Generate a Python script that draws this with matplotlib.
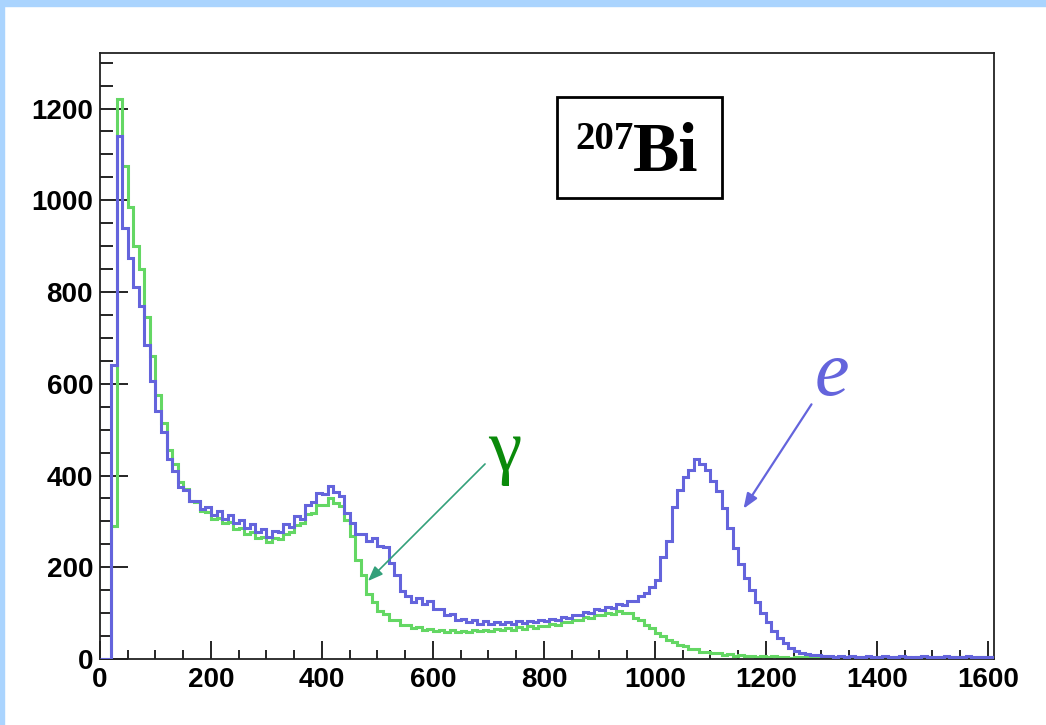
import numpy as np
import matplotlib
matplotlib.use("Agg")
import matplotlib.pyplot as plt
from matplotlib.ticker import MultipleLocator
from matplotlib.patches import Rectangle

# ---- data (counts per 10-unit bin, 0..1610) ----
bin_edges = list(range(0, 1620, 10))

gamma_counts = [
    0, 0, 290, 1220, 1075, 985, 900, 850, 745, 660,
    575, 515, 455, 425, 385, 370, 345, 342, 322, 320,
    306, 308, 296, 298, 284, 286, 272, 276, 264, 266,
    256, 264, 262, 272, 276, 292, 296, 316, 318, 336,
    336, 350, 340, 334, 302, 268, 216, 184, 142, 124,
    104, 99, 86, 84, 75, 75, 68, 70, 64, 66,
    61, 64, 59, 63, 58, 62, 58, 63, 60, 64,
    61, 66, 63, 68, 64, 69, 66, 71, 68, 73,
    71, 77, 75, 81, 80, 86, 85, 91, 90, 97,
    95, 101, 99, 105, 100, 100, 90, 86, 74, 68,
    56, 51, 41, 38, 30, 28, 22, 21, 16, 16,
    12, 12, 9, 10, 7, 8, 6, 7, 5, 6,
    4, 6, 4, 5, 3, 5, 4, 5, 3, 5,
    4, 5, 3, 5, 4, 5, 3, 4, 5, 3,
    5, 4, 3, 5, 4, 5, 3, 4, 5, 4,
    3, 5, 4, 5, 3, 4, 5, 3, 4, 5,
    4,
]

electron_counts = [
    0, 0, 640, 1140, 940, 875, 810, 770, 685, 605,
    540, 495, 435, 410, 375, 368, 345, 345, 326, 332,
    314, 322, 306, 314, 296, 304, 286, 294, 276, 284,
    266, 280, 276, 294, 288, 312, 306, 336, 342, 362,
    360, 378, 364, 356, 318, 296, 272, 272, 258, 264,
    246, 244, 210, 184, 148, 138, 124, 132, 120, 126,
    110, 110, 96, 98, 86, 88, 80, 84, 77, 82,
    76, 81, 76, 80, 77, 82, 78, 83, 80, 85,
    82, 88, 86, 92, 90, 97, 95, 102, 100, 108,
    106, 114, 112, 120, 118, 126, 127, 137, 143, 157,
    172, 222, 258, 332, 368, 396, 412, 436, 424, 412,
    388, 366, 330, 286, 242, 206, 176, 150, 124, 100,
    80, 60, 46, 35, 25, 18, 13, 11, 8, 8,
    6, 7, 5, 6, 4, 6, 5, 4, 6, 5,
    4, 6, 5, 4, 6, 5, 4, 5, 6, 4,
    5, 4, 6, 5, 4, 5, 6, 4, 5, 4,
    5,
]

x_ticks = [0, 200, 400, 600, 800, 1000, 1200, 1400, 1600]
y_ticks = [0, 200, 400, 600, 800, 1000, 1200]

BLUE = "#6464dc"
GREEN = "#64d764"
DKGREEN = "#0a8a0a"
TEAL = "#33a07a"

W, H = 1046, 725
fig = plt.figure(figsize=(W / 100, H / 100), dpi=100)
fig.patch.set_facecolor("white")

# light blue slide border (top and left)
fig.patches.append(Rectangle((0, 1 - 6 / H), 1, 6 / H, transform=fig.transFigure,
                             color="#aad4fe", zorder=0))
fig.patches.append(Rectangle((0, 0), 4 / W, 1, transform=fig.transFigure,
                             color="#aad4fe", zorder=0))

ax = fig.add_axes([100 / W, (H - 659) / H, 894 / W, 606 / H])

ax.stairs(gamma_counts, bin_edges, color=GREEN, lw=2.2, zorder=2)
ax.stairs(electron_counts, bin_edges, color=BLUE, lw=2.2, zorder=3)

ax.set_xlim(0, 1611)
ax.set_ylim(0, 1321)
ax.set_xticks(x_ticks)
ax.set_yticks(y_ticks)
ax.xaxis.set_minor_locator(MultipleLocator(50))
ax.yaxis.set_minor_locator(MultipleLocator(50))

for s in ax.spines.values():
    s.set_linewidth(1.3)
    s.set_color("#222222")

ax.tick_params(axis="x", which="major", direction="in", length=13, width=1.2, pad=6)
ax.tick_params(axis="x", which="minor", direction="in", length=6.7, width=1.2)
ax.tick_params(axis="y", which="major", direction="in", length=20, width=1.2, pad=5)
ax.tick_params(axis="y", which="minor", direction="in", length=9.5, width=1.2)
ax.tick_params(top=False, right=False, which="both")

for lab in ax.get_xticklabels() + ax.get_yticklabels():
    lab.set_fontfamily("Liberation Sans")
    lab.set_fontweight("bold")
    lab.set_fontsize(20)

def fx(px):
    return px / W

def fy(py):
    return (H - py) / H

# label box
fig.patches.append(Rectangle((fx(557), fy(198)), fx(722) - fx(557), fy(97) - fy(198),
                             transform=fig.transFigure, fill=False, ec="black", lw=2, zorder=5))
fig.text(fx(633), fy(171), "Bi", fontfamily="Liberation Serif", fontweight="bold",
         fontsize=50, ha="left", va="baseline", zorder=6)
fig.text(fx(634), fy(121), "207", fontfamily="Liberation Serif", fontweight="bold",
         fontsize=28, ha="right", va="top", zorder=6)

# annotations
fig.text(fx(505), fy(452), "γ", fontfamily="Liberation Serif", fontsize=54,
         color=DKGREEN, ha="center", va="center")
ax.annotate("", xy=(fx(366), fy(583)), xycoords="figure fraction",
            xytext=(fx(487), fy(462)), textcoords="figure fraction",
            arrowprops=dict(arrowstyle="-|>,head_length=0.9,head_width=0.35",
                            color=TEAL, lw=1.2))

fig.text(fx(832), fy(376), "e", fontfamily="Liberation Serif", fontstyle="italic",
         fontsize=56, color=BLUE, ha="center", va="center")
ax.annotate("", xy=(fx(742), fy(511)), xycoords="figure fraction",
            xytext=(fx(813), fy(402)), textcoords="figure fraction",
            arrowprops=dict(arrowstyle="-|>,head_length=0.9,head_width=0.35",
                            color=BLUE, lw=1.6))

fig.savefig("out.png", dpi=100, facecolor="white")
